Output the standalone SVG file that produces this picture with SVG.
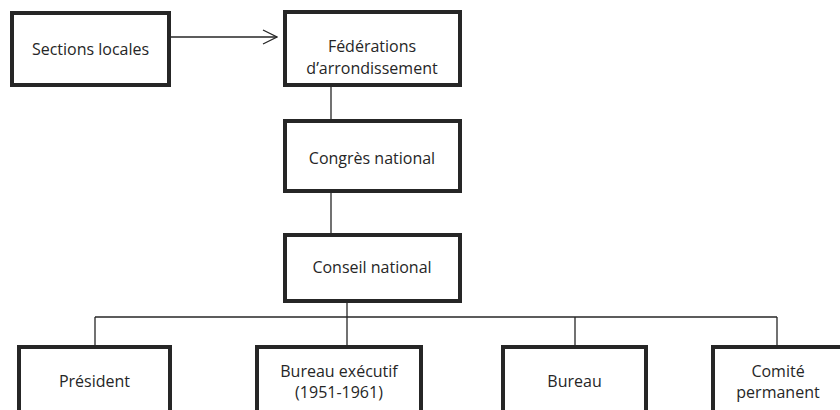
<svg xmlns="http://www.w3.org/2000/svg" width="840" height="410" viewBox="0 0 840 410">
  <style>
    .box { fill: #ffffff; stroke: #262626; stroke-width: 4; }
    .lbl { font-family: "Open Sans", "Liberation Sans", sans-serif; font-size: 16px; fill: #262626; text-anchor: middle; }
    .link { fill: none; stroke: #262626; stroke-width: 1.3; }
  </style>
  <defs>
    <marker id="open-arrow" viewBox="0 0 16 16" refX="15" refY="8" markerWidth="16" markerHeight="16" markerUnits="userSpaceOnUse" orient="auto">
      <path d="M1,1 L15,8 L1,15" fill="none" stroke="#262626" stroke-width="1.3"/>
    </marker>
  </defs>

  <rect width="840" height="410" fill="#ffffff"/>

  <!-- connectors -->
  <g id="connectors">
    <line class="link" x1="171" y1="37" x2="277" y2="37" marker-end="url(#open-arrow)"/>
    <line class="link" x1="331" y1="87" x2="331" y2="119"/>
    <line class="link" x1="331" y1="193" x2="331" y2="233"/>
    <line class="link" x1="347" y1="303" x2="347" y2="345"/>
    <line class="link" x1="95" y1="317" x2="777" y2="317"/>
    <line class="link" x1="95" y1="317" x2="95" y2="345"/>
    <line class="link" x1="575" y1="317" x2="575" y2="345"/>
    <line class="link" x1="777" y1="317" x2="777" y2="345"/>
  </g>

  <!-- nodes -->
  <g id="sections-locales">
    <rect class="box" x="12" y="13" width="157" height="72"/>
    <text class="lbl" x="90.5" y="55">Sections locales</text>
  </g>
  <g id="federations">
    <rect class="box" x="285" y="12" width="175" height="73"/>
    <text class="lbl" x="372" y="52">Fédérations</text>
    <text class="lbl" x="372" y="74">d’arrondissement</text>
  </g>
  <g id="congres-national">
    <rect class="box" x="285" y="121" width="175" height="70"/>
    <text class="lbl" x="372" y="164">Congrès national</text>
  </g>
  <g id="conseil-national">
    <rect class="box" x="285" y="235" width="175" height="66"/>
    <text class="lbl" x="372" y="273">Conseil national</text>
  </g>
  <g id="president">
    <rect class="box" x="19" y="347" width="151" height="80"/>
    <text class="lbl" x="94.5" y="387">Président</text>
  </g>
  <g id="bureau-executif">
    <rect class="box" x="257" y="347" width="164" height="80"/>
    <text class="lbl" x="339" y="377">Bureau exécutif</text>
    <text class="lbl" x="339" y="398">(1951-1961)</text>
  </g>
  <g id="bureau">
    <rect class="box" x="503" y="347" width="143" height="80"/>
    <text class="lbl" x="574.5" y="387">Bureau</text>
  </g>
  <g id="comite-permanent">
    <rect class="box" x="713" y="347" width="132" height="80"/>
    <text class="lbl" x="778" y="377">Comité</text>
    <text class="lbl" x="778" y="398">permanent</text>
  </g>
</svg>
